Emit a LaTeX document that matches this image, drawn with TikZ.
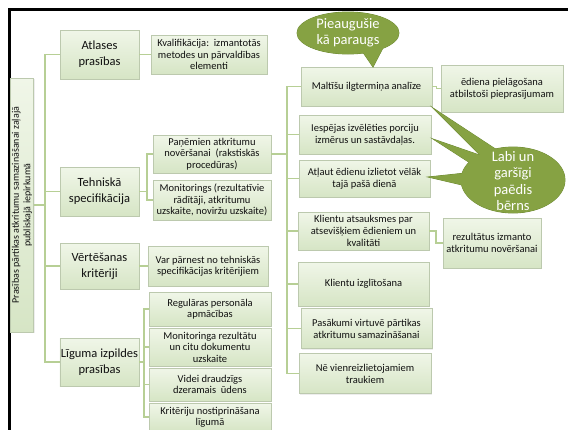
\documentclass[tikz,border=0pt]{standalone}
\usepackage{fontspec}
\setmainfont{Carlito}
\usetikzlibrary{calc,shadows}
\definecolor{boxline}{HTML}{BCC9AE}
\definecolor{boxtop}{HTML}{F0F6E8}
\definecolor{boxbot}{HTML}{D6E5C5}
\definecolor{connc}{HTML}{B7CF95}
\definecolor{olive}{HTML}{86A243}
\definecolor{olivedark}{HTML}{6C8832}
\definecolor{txt}{HTML}{111111}
\begin{document}
\begin{tikzpicture}[x=1pt,y=-1pt,
 bx/.style={draw=boxline, line width=0.7pt, top color=boxtop, bottom color=boxbot, inner sep=1pt, align=center, text=txt,
   drop shadow={shadow xshift=1pt, shadow yshift=-1pt, fill=black, opacity=0.07}},
 lone/.style={bx, minimum width=79, font=\fontsize{12.5}{16}\selectfont},
 ltwo/.style={bx, font=\fontsize{10.5}{11.4}\selectfont},
 lthree/.style={bx, font=\fontsize{10.5}{11.8}\selectfont},
 conn/.style={draw=connc, line width=1.1pt},
 callout/.style={fill=olive, draw=olivedark, line width=0.8pt},
 ctext/.style={text=white, align=center, font=\fontsize{14.5}{16.5}\selectfont}
]
\useasboundingbox (0,0) rectangle (568,429);
\fill[white] (0,0) rectangle (568,429);

% frame
\draw[line width=2.5pt, line cap=rect] (9.5,431) -- (9.5,9.5) -- (570,9.5);

% root
\node[bx, rotate=90, minimum width=254, minimum height=23,
  font=\fontsize{10}{11.3}\selectfont] (root) at (22,205)
  {Prasības pārtikas atkritumu samazināšanai zaļajā\\publiskajā iepirkumā};

% level 1
\node[lone, minimum height=49] (l1a) at (99.5,54.5) {Atlases\\prasības};
\node[lone, minimum height=49] (l1b) at (99.5,191.5) {Tehniskā\\specifikācija};
\node[lone, minimum height=46] (l1c) at (99.5,266) {Vērtēšanas\\kritēriji};
\node[lone, minimum height=48] (l1d) at (99.5,362) {Līguma izpildes\\prasības};

% level 2
\node[ltwo, minimum width=116, minimum height=39] (k2a) at (209,54.5) {Kvalifikācija:\ \ izmantotās\\metodes un pārvaldības\\elementi};
\node[ltwo, minimum width=118, minimum height=38] (k2b) at (212,154) {Paņēmien atkritumu\\novēršanai\ \ (rakstiskās\\procedūras)};
\node[ltwo, minimum width=118, minimum height=40] (k2c) at (212,200) {Monitorings (rezultatīvie\\rādītāji, atkritumu\\uzskaite, noviržu uzskaite)};
\node[ltwo, minimum width=120, minimum height=40] (k2d) at (208,266) {Var pārnest no tehniskās\\specifikācijas kritērijiem};
\node[ltwo, minimum width=122, minimum height=34] (k2e) at (210,309) {Regulāras personāla\\apmācības};
\node[ltwo, minimum width=122, minimum height=38] (k2f) at (210,347) {Monitoringa rezultātu\\un citu dokumentu\\uzskaite};
\node[ltwo, minimum width=122, minimum height=33] (k2g) at (210,384.5) {Videi draudzīgs\\dzeramais\ \ ūdens};
\node[ltwo, minimum width=122, minimum height=28] (k2h) at (210,417) {Kritēriju nostiprināšana\\līgumā};

% level 3
\node[lthree, minimum width=131, minimum height=39] (c3a) at (366.5,86.5) {Maltīšu ilgtermiņa analīze};
\node[lthree, minimum width=132, minimum height=39] (c3b) at (365,134.5) {Iespējas izvēlēties porciju\\izmērus un sastāvdaļas.};
\node[lthree, minimum width=131, minimum height=37] (c3c) at (364.5,178.5) {Atļaut ēdienu izlietot vēlāk\\tajā pašā dienā};
\node[lthree, minimum width=131, minimum height=38] (c3d) at (363.5,231) {Klientu atsauksmes par\\atsevišķiem ēdieniem un\\kvalitāti};
\node[lthree, minimum width=131, minimum height=44] (c3e) at (363.5,284) {Klientu izglītošana};
\node[lthree, minimum width=131, minimum height=40] (c3f) at (366.5,328.5) {Pasākumi virtuvē pārtikas\\atkritumu samazināšanai};
\node[lthree, minimum width=132, minimum height=40] (c3g) at (365,373.5) {Nē vienreizlietojamiem\\traukiem};
\node[lthree, minimum width=122, minimum height=47] (d1) at (502,88.5) {ēdiena pielāgošana\\atbilstoši pieprasījumam};
\node[lthree, minimum width=98, minimum height=50] (d2) at (492,243) {rezultātus izmanto\\atkritumu novēršanai};

% connectors
\coordinate (t1) at (45,205);
\coordinate (t2) at (147,191.5);
\coordinate (t3) at (287,154);
\coordinate (t4) at (144,362);
\draw[conn] (root.south) -- (t1);
\foreach \n in {l1a,l1b,l1c,l1d} \draw[conn] (\n.west) -| (t1);
\draw[conn] (l1a.east) -- (k2a.west);
\draw[conn] (l1b.east) -- (t2);
\foreach \n in {k2b,k2c} \draw[conn] (\n.west) -| (t2);
\draw[conn] (l1c.east) -- (k2d.west);
\draw[conn] (l1d.east) -- (t4);
\foreach \n in {k2e,k2f,k2g,k2h} \draw[conn] (\n.west) -| (t4);
\draw[conn] (k2b.east) -- (t3);
\foreach \n in {c3a,c3b,c3c,c3d,c3e,c3f,c3g} \draw[conn] (\n.west) -| (t3);
\draw[conn] (c3a.east) -| ($(c3a.east)!.5!(d1.west)$) |- (d1.west);
\draw[conn] (c3d.east) -| ($(c3d.east)!.5!(d2.west)$) |- (d2.west);

% callout 1
\filldraw[callout] (360,48) -- (373,67) -- (385,44) -- cycle;
\filldraw[callout] (348,33) ellipse [x radius=51, y radius=21];
\fill[olive] (360,48) -- (373,67) -- (385,44) -- cycle;
\fill[olive] (348,33) ellipse [x radius=51, y radius=21];
\node[ctext] (co1) at (348,33) {Pieaugušie\\kā paraugs};

% callout 2
\filldraw[callout] (485,160) -- (433,108) -- (500,152) -- cycle;
\filldraw[callout] (478,168) -- (433,139) -- (488,158) -- cycle;
\filldraw[callout] (475,172) -- (428,177) -- (475,188) -- cycle;
\filldraw[callout] (513,180) ellipse [x radius=52, y radius=33];
\fill[olive] (485,160) -- (433,108) -- (500,152) -- cycle;
\fill[olive] (478,168) -- (433,139) -- (488,158) -- cycle;
\fill[olive] (475,172) -- (428,177) -- (475,188) -- cycle;
\fill[olive] (513,180) ellipse [x radius=52, y radius=33];
\node[ctext] (co2) at (513,181) {Labi un\\garšīgi\\paēdis\\bērns};
\end{tikzpicture}
\end{document}
